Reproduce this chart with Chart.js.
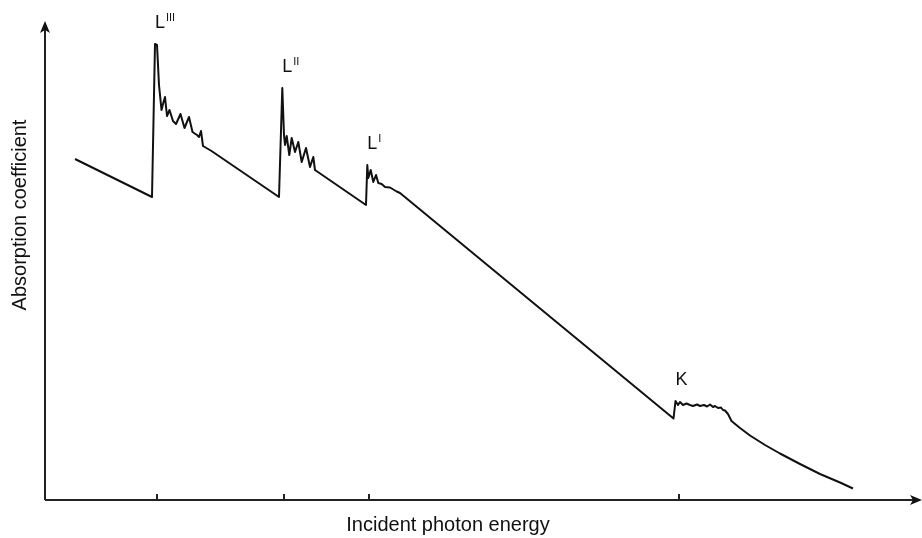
<!DOCTYPE html>
<html>
<head>
<meta charset="utf-8">
<script src="https://cdn.jsdelivr.net/npm/chart.js@4/dist/chart.umd.min.js"></script>
<style>
  html, body { margin: 0; padding: 0; background: #ffffff; }
  #wrap { width: 922px; height: 538px; position: relative; }
</style>
</head>
<body>
<div id="wrap"><canvas id="chart"></canvas></div>
<script>
// Absorption spectrum (arbitrary units): photon energy vs absorption coefficient
const energy = [
  30, 107, 110, 112, 114, 116.5, 118, 120, 122, 124.5, 128, 131, 135.5, 139.5, 144, 147.5,
  152, 154, 156, 158, 166.5,
  234, 237.3, 239, 240, 241.7, 244.3, 246.7, 250, 253.3, 256.7, 261, 265, 268.3, 270,
  321, 322.3, 323.3, 325.7, 328.3, 331, 333.3, 336.7, 340, 345, 351.7, 355,
  628.5, 630.5, 633, 635, 638, 641.5, 645, 648, 652, 655, 659, 662, 665, 668, 670, 673,
  676, 678, 680, 683, 686.5,
  695, 705, 720, 735, 755, 775, 795, 808
];
const absorption = [
  341, 303, 456, 455, 415, 390, 396, 403, 384, 390, 379, 376, 386, 372, 383, 368,
  365, 363, 369, 354, 349,
  303, 412, 365, 355, 364, 345, 362, 348, 358, 338, 352, 333, 343, 330,
  295, 335, 322, 330, 318, 325, 317, 316, 313, 312.5, 308.5, 307,
  81.5, 99, 95, 98, 95, 96.5, 95, 94, 95.5, 94, 95, 93.5, 95.5, 93, 94, 92,
  92.5, 90, 89.5, 86, 79,
  72, 64.5, 55, 46.5, 36, 26, 17.5, 11.5
];

// Absorption edges
const edgeNames = ['L', 'L', 'L', 'K'];
const edgeSubshells = ['III', 'II', 'I', ''];
const edgeEnergies = [110, 237.3, 322.3, 630.5];
const tickEnergies = [112, 239, 324, 634];

const xTitle = 'Incident photon energy';
const yTitle = 'Absorption coefficient';

const points = energy.map((e, i) => ({ x: e, y: absorption[i] }));
const FONT = '"Liberation Sans", Arial, Helvetica, sans-serif';

const decorations = {
  id: 'decorations',
  afterDraw(chart) {
    const { ctx, chartArea, scales } = chart;
    const xs = scales.x, ys = scales.y;
    const x0 = chartArea.left, y0 = chartArea.bottom;
    ctx.save();
    ctx.strokeStyle = '#222';
    ctx.fillStyle = '#111';
    ctx.lineWidth = 2;

    // axes
    ctx.beginPath();
    ctx.moveTo(x0, y0);
    ctx.lineTo(x0, chartArea.top + 6);
    ctx.moveTo(x0, y0);
    ctx.lineTo(chartArea.right - 6, y0);
    ctx.stroke();

    // arrow heads
    const tipY = chartArea.top - 1;
    ctx.beginPath();
    ctx.moveTo(x0, tipY);
    ctx.lineTo(x0 + 5, tipY + 12);
    ctx.lineTo(x0, tipY + 9);
    ctx.lineTo(x0 - 5, tipY + 12);
    ctx.closePath();
    ctx.fill();
    const tipX = chartArea.right;
    ctx.beginPath();
    ctx.moveTo(tipX, y0);
    ctx.lineTo(tipX - 12, y0 - 5);
    ctx.lineTo(tipX - 9, y0);
    ctx.lineTo(tipX - 12, y0 + 5);
    ctx.closePath();
    ctx.fill();

    // edge ticks
    ctx.beginPath();
    tickEnergies.forEach(e => {
      const px = Math.round(xs.getPixelForValue(e));
      ctx.moveTo(px, y0 - 6);
      ctx.lineTo(px, y0);
    });
    ctx.stroke();

    // edge labels
    ctx.textBaseline = 'alphabetic';
    ctx.textAlign = 'left';
    edgeNames.forEach((name, i) => {
      const e = edgeEnergies[i];
      let peak = -Infinity;
      energy.forEach((en, j) => {
        if (en >= e - 0.5 && en <= e + 15) peak = Math.max(peak, absorption[j]);
      });
      const px = xs.getPixelForValue(e);
      const py = ys.getPixelForValue(peak) - 16;
      ctx.font = '18px ' + FONT;
      ctx.fillText(name, px, py);
      const w = ctx.measureText(name).width;
      if (edgeSubshells[i]) {
        ctx.font = '11px ' + FONT;
        ctx.fillText(edgeSubshells[i], px + w + 1, py - 7);
      }
    });

    // axis titles
    ctx.font = '20px ' + FONT;
    ctx.textAlign = 'center';
    ctx.textBaseline = 'middle';
    ctx.fillText(xTitle, 448, y0 + 25);
    ctx.translate(x0 - 25, 215);
    ctx.rotate(-Math.PI / 2);
    ctx.fillText(yTitle, 0, 0);
    ctx.restore();
  }
};

new Chart(document.getElementById('chart'), {
  type: 'line',
  data: {
    datasets: [{
      data: points,
      borderColor: '#111111',
      borderWidth: 2,
      borderJoinStyle: 'round',
      pointRadius: 0,
      fill: false,
      tension: 0
    }]
  },
  options: {
    responsive: true,
    maintainAspectRatio: false,
    animation: false,
    layout: { padding: { left: 45, right: 0, top: 22, bottom: 38 } },
    plugins: { legend: { display: false }, tooltip: { enabled: false } },
    scales: {
      x: { type: 'linear', min: 0, max: 877, display: false },
      y: { type: 'linear', min: 0, max: 478, display: false }
    }
  },
  plugins: [decorations]
});
</script>
</body>
</html>
